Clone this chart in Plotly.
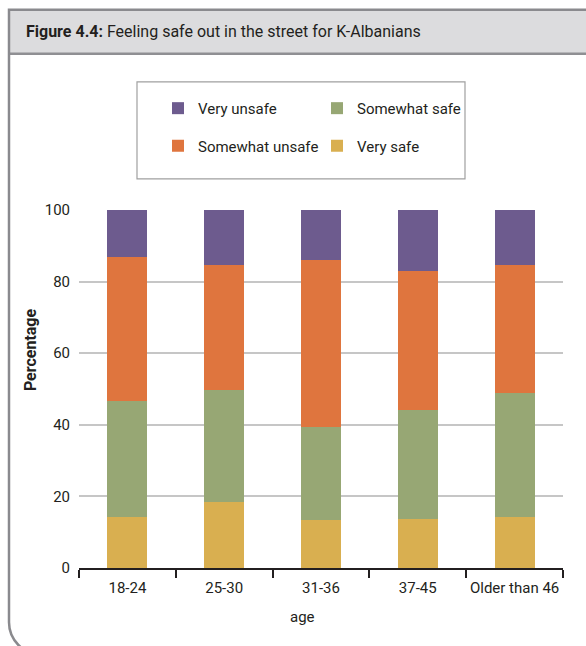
import plotly.graph_objects as go

# ---- data ----
categories = ["18-24", "25-30", "31-36", "37-45", "Older than 46"]
very_safe = [14.2, 18.4, 13.3, 13.6, 14.2]
somewhat_safe = [32.4, 31.3, 26.0, 30.5, 34.6]
somewhat_unsafe = [40.3, 34.9, 46.7, 38.9, 35.8]
very_unsafe = [13.1, 15.4, 14.0, 17.0, 15.4]
y_ticks = [0, 20, 40, 60, 80, 100]

W, H = 586, 646
L, R, T, B = 79, 563, 210, 567.7

def px(x):
    return (x - L) / (R - L)

def py(y):
    return (B - y) / (B - T)

FONT = "Roboto, Liberation Sans, sans-serif"
TXT = "#231f20"

series = [
    ("Very safe", very_safe, "#d9af50", "legend4"),
    ("Somewhat safe", somewhat_safe, "#97a774", "legend2"),
    ("Somewhat unsafe", somewhat_unsafe, "#df753e", "legend3"),
    ("Very unsafe", very_unsafe, "#6d5b8e", "legend"),
]

fig = go.Figure()
for name, vals, col, lg in series:
    fig.add_trace(go.Bar(x=categories, y=vals, name=name, marker_color=col,
                         marker_line_width=0, legend=lg, showlegend=True))

leg_common = dict(bgcolor="rgba(0,0,0,0)", borderwidth=0,
                  font=dict(family=FONT, size=15, color=TXT),
                  xanchor="left", yanchor="middle", itemwidth=30)
col1_x, col2_x = px(158), px(317)
row1_y, row2_y = py(108.5), py(146)

fig.update_layout(
    width=W, height=H, autosize=False, showlegend=True,
    margin=dict(l=L, r=W - R, t=T, b=H - B, autoexpand=False),
    paper_bgcolor="white", plot_bgcolor="white",
    barmode="stack", bargap=0.587,
    font=dict(family=FONT, size=15, color=TXT),
    legend=dict(x=col1_x, y=row1_y, **leg_common),
    legend2=dict(x=col2_x, y=row1_y, **leg_common),
    legend3=dict(x=col1_x, y=row2_y, **leg_common),
    legend4=dict(x=col2_x, y=row2_y, **leg_common),
    xaxis=dict(showline=True, linecolor=TXT, linewidth=1.5, automargin=False, tickangle=0,
               ticks="outside", tickson="boundaries", ticklen=8, tickcolor=TXT, tickwidth=1.5,
               ticklabelstandoff=5,
               tickfont=dict(family=FONT, size=15, color=TXT), showgrid=False),
    yaxis=dict(range=[0, 100], tickvals=y_ticks, showgrid=True, gridcolor="#c6c6c6", gridwidth=1.5,
               zeroline=False, showline=False, ticks="", ticklabelstandoff=8, automargin=False,
               tickfont=dict(family=FONT, size=15, color=TXT)),
)

# frame and title bar
r = 32
k = 0.5523 * r
x0, y0 = 9, 10
ybot = 622 + r
frame = (f"M {px(620)},{py(y0)} L {px(x0)},{py(y0)} L {px(x0)},{py(622)} "
         f"C {px(x0)},{py(622 + k)} {px(x0 + r - k)},{py(ybot)} {px(x0 + r)},{py(ybot)} "
         f"L {px(620)},{py(ybot)}")
shapes = [
    dict(type="rect", xref="paper", yref="paper", x0=px(x0), x1=px(620), y0=py(y0), y1=py(54),
         fillcolor="#dcdcde", line_width=0, layer="below"),
    dict(type="line", xref="paper", yref="paper", x0=px(x0), x1=px(620), y0=py(54), y1=py(54),
         line=dict(color="#8f8f93", width=2.5)),
    dict(type="path", xref="paper", yref="paper", path=frame,
         line=dict(color="#8a8a8e", width=2.5)),
    dict(type="rect", xref="paper", yref="paper", x0=px(137), x1=px(465), y0=py(82), y1=py(179),
         line=dict(color="#a0a0a0", width=1.2), fillcolor="rgba(0,0,0,0)"),
]
fig.update_layout(shapes=shapes)

fig.add_annotation(text="<b>Figure 4.4:</b> Feeling safe out in the street for K-Albanians",
                   xref="paper", yref="paper", x=px(24), y=py(32), xanchor="left", yanchor="middle",
                   showarrow=False, font=dict(family=FONT, size=16, color=TXT))
fig.add_annotation(text="<b>Percentage</b>", xref="paper", yref="paper", x=px(30), y=py(350),
                   textangle=-90, showarrow=False, xanchor="center", yanchor="middle",
                   font=dict(family=FONT, size=16, color=TXT))
fig.add_annotation(text="age", xref="paper", yref="paper", x=px(302), y=py(617),
                   showarrow=False, xanchor="center", yanchor="middle",
                   font=dict(family=FONT, size=15, color=TXT))

fig.write_html("out.html", config={"displayModeBar": False},
               post_script="document.body.style.margin='0';document.body.style.overflow='hidden';")
